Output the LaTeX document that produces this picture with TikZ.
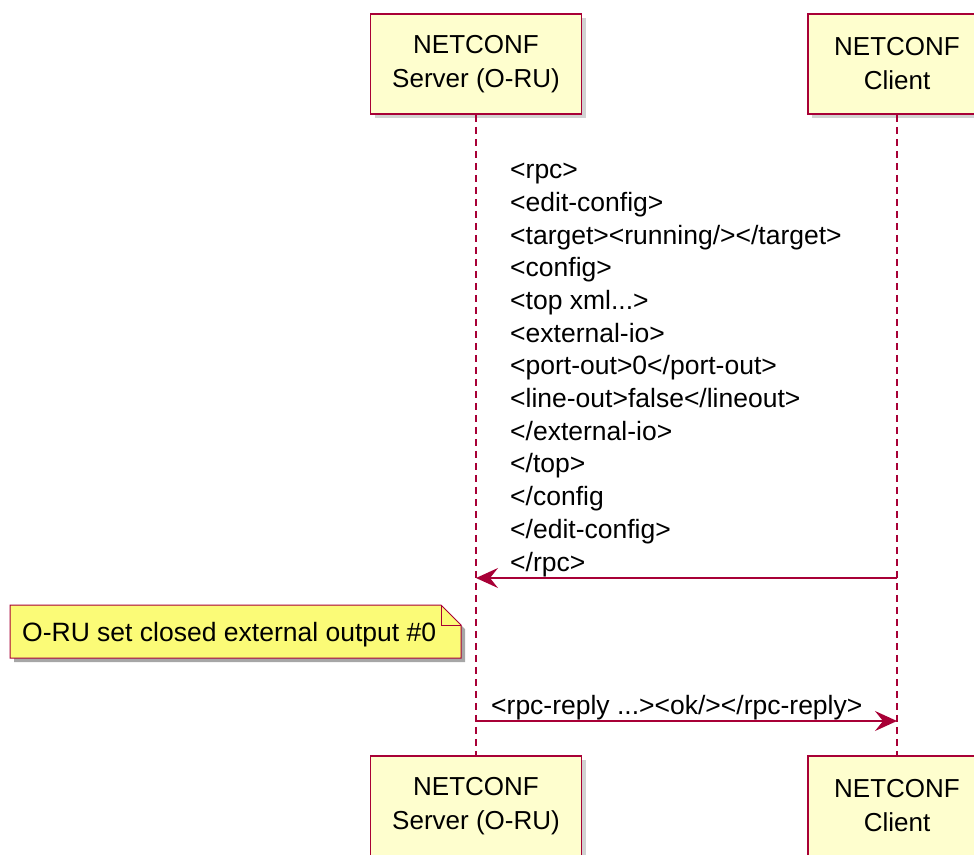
\documentclass[tikz,border=0pt]{standalone}
\usepackage{fontspec}
\setmainfont{Liberation Sans}
\usetikzlibrary{
    arrows.meta,
    positioning,
    shadows
}
\definecolor{umlred}{HTML}{A80036}
\definecolor{umlbox}{HTML}{FEFECE}
\definecolor{umlnote}{HTML}{FBFB77}

\begin{document}
\begin{tikzpicture}[
    x=1pt, y=-1pt,
    actor/.style={rectangle, draw=umlred, fill=umlbox, line width=1.5pt, inner sep=0pt,
        minimum height=100pt, align=center, font=\fontsize{26}{34}\selectfont,
        drop shadow={shadow xshift=4pt, shadow yshift=-4pt, fill=black!35}},
    lifeline/.style={draw=umlred, line width=1.4pt, dash pattern=on 7pt off 5pt},
    msg/.style={draw=umlred, line width=1.5pt, -{Stealth[length=22pt, width=20pt, inset=8pt]}},
    msgtext/.style={inner sep=0pt, align=left, font=\fontsize{26.5}{32.67}\selectfont},
    notetext/.style={inner sep=0pt, font=\fontsize{26.5}{32}\selectfont}
]
\useasboundingbox (0,0) rectangle (974,854);

% Participants (top)
\node[actor, minimum width=211pt] (srv-top) at (476,64) {NETCONF\\Server (O-RU)};
\node[actor, minimum width=178pt] (cli-top) at (897,64) {NETCONF\\Client};

% Participants (bottom)
\node[actor, minimum width=211pt] (srv-bot) at (476,806) {NETCONF\\Server (O-RU)};
\node[actor, minimum width=178pt] (cli-bot) at (897,806) {NETCONF\\Client};

% Lifelines
\draw[lifeline] (srv-top.south) -- (srv-bot.north);
\draw[lifeline] (cli-top.south) -- (cli-bot.north);

% edit-config request (base = last line)
\node[msgtext, anchor=base west] (req) at (510,571) {<rpc>\\<edit-config>\\<target><running/></target>\\<config>\\<top xml...>\\<external-io>\\<port-out>0</port-out>\\<line-out>false</lineout>\\</external-io>\\</top>\\</config\\</edit-config>\\</rpc>};
\coordinate (req-from) at (897,578);
\coordinate (req-to) at (476,578);
\draw[msg] (req-from) -- (req-to);

% Note on the server side
\fill[black!35] (14,609) -- (445,609) -- (465,629) -- (465,662) -- (14,662) -- cycle;
\draw[umlred, fill=umlnote, line width=1pt] (10,605) -- (441,605) -- (461,625) -- (461,658) -- (10,658) -- cycle;
\draw[umlred, line width=1pt] (441,605) -- (441,625) -- (461,625);
\node[notetext, anchor=base west] (note) at (22,641) {O-RU set closed external output \#0};

% reply
\node[msgtext, anchor=base west] (reply) at (491,714) {<rpc-reply ...><ok/></rpc-reply>};
\coordinate (reply-from) at (476,721);
\coordinate (reply-to) at (897,721);
\draw[msg] (reply-from) -- (reply-to);

\end{tikzpicture}
\end{document}
